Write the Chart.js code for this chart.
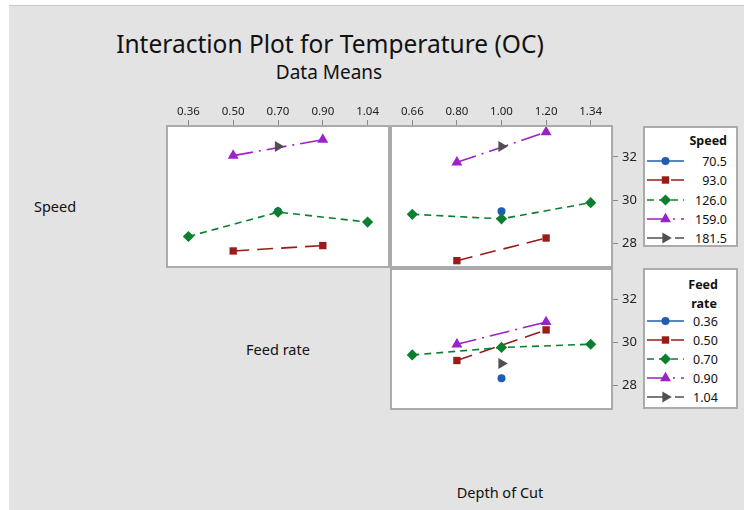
<!DOCTYPE html>
<html>
<head>
<meta charset="utf-8">
<script src="https://cdn.jsdelivr.net/npm/chart.js@4.4.1/dist/chart.umd.min.js"></script>
<style>
  body { margin: 0; width: 744px; height: 510px; background: #fff; overflow: hidden;
         font-family: "Noto Sans", sans-serif; color: #111; position: relative; }
  #bg { position: absolute; left: 9px; top: 5px; right: 0; bottom: 0; background: #e3e3e3;
        border-top: 1px solid #c9c9c9; }
  .txt { position: absolute; white-space: nowrap; transform: translate(-50%, -50%); line-height: 1; }
  canvas { position: absolute; }
  .legend { position: absolute; background: #fff; border: 2px solid #ababab; box-sizing: border-box; }
  .lg { position: absolute; white-space: nowrap; font-size: 12.5px; line-height: 1; transform: translateY(-50%); }
  .lgsym { position: absolute; transform: translateY(-50%); }
</style>
</head>
<body>
<div id="bg"></div>
<div class="txt" style="left:330px;top:44px;font-size:24.5px;">Interaction Plot for Temperature (OC)</div>
<div class="txt" style="left:329px;top:72px;font-size:19px;">Data Means</div>
<div class="txt" style="left:55px;top:206px;font-size:14.5px;">Speed</div>
<div class="txt" style="left:278px;top:349px;font-size:14.5px;">Feed rate</div>
<div class="txt" style="left:500px;top:492px;font-size:14.5px;">Depth of Cut</div>

<canvas id="speedFeed" width="224" height="173" style="left:166px;top:95px;"></canvas>
<canvas id="speedDepth" width="263" height="173" style="left:390px;top:95px;"></canvas>
<canvas id="feedDepth" width="263" height="142" style="left:390px;top:268px;"></canvas>

<div class="legend" id="speedLegend" style="left:643px;top:126px;width:95px;height:121px;"></div>
<div class="legend" id="feedLegend" style="left:643px;top:268px;width:95px;height:141px;"></div>

<script>
// levels on the x axes and in the legends
const feedLabels = ['0.36', '0.50', '0.70', '0.90', '1.04'];
const depthLabels = ['0.66', '0.80', '1.00', '1.20', '1.34'];
const speedLevels = ['70.5', '93.0', '126.0', '159.0', '181.5'];
const feedLevels = ['0.36', '0.50', '0.70', '0.90', '1.04'];
const yTicks = [28, 30, 32];

// Speed lines over Feed rate (top left)
const speed705ByFeed = [null, null, 29.48, null, null];
const speed93ByFeed = [null, 27.64, null, 27.89, null];
const speed126ByFeed = [28.31, null, 29.44, null, 28.98];
const speed159ByFeed = [null, 32.06, null, 32.80, null];
const speed1815ByFeed = [null, null, 32.48, null, null];

// Speed lines over Depth of Cut (top right)
const speed705ByDepth = [null, null, 29.48, null, null];
const speed93ByDepth = [null, 27.19, null, 28.24, null];
const speed126ByDepth = [29.34, null, 29.13, null, 29.88];
const speed159ByDepth = [null, 31.75, null, 33.15, null];
const speed1815ByDepth = [null, null, 32.48, null, null];

// Feed rate lines over Depth of Cut (bottom right)
const feed036ByDepth = [null, null, 28.33, null, null];
const feed050ByDepth = [null, 29.16, null, 30.59, null];
const feed070ByDepth = [29.42, null, 29.77, null, 29.92];
const feed090ByDepth = [null, 29.92, null, 30.96, null];
const feed104ByDepth = [null, null, 29.02, null, null];

// series look, same order in every panel
const colors = ['#1d5fae', '#9b1b1b', '#0b7f2f', '#9a22c6', '#505050'];
const markers = ['circle', 'rect', 'rectRot', 'triangle', 'triangle'];
const rotations = [0, 0, 0, 0, 90];
const radii = [4, 5.2, 5.6, 6.3, 6.3];
const dashes = [[], [16, 8], [7, 5], [20, 6, 2, 6], [20, 8]];

const Y_MIN = 26.85, Y_MAX = 33.48;

function makeDatasets(series, names) {
    return series.map((data, i) => ({
        label: names[i],
        data: data,
        borderColor: colors[i],
        backgroundColor: colors[i],
        pointStyle: markers[i],
        pointRotation: rotations[i],
        pointRadius: radii[i],
        pointBorderWidth: 0,
        borderWidth: 1.6,
        borderDash: dashes[i],
        spanGaps: true,
        clip: false,
        order: 4 - i
    }));
}

// white panel with grey frame
const panelFrame = {
    id: 'panelFrame',
    beforeDatasetsDraw(chart) {
        const { ctx, chartArea: a } = chart;
        ctx.save();
        ctx.fillStyle = '#fff';
        ctx.fillRect(a.left, a.top, a.right - a.left, a.bottom - a.top);
        ctx.restore();
    },
    afterDraw(chart) {
        const { ctx, chartArea: a } = chart;
        ctx.save();
        ctx.strokeStyle = '#aaaaaa';
        ctx.lineWidth = 2;
        ctx.strokeRect(a.left + 1, a.top + 1, a.right - a.left - 2, a.bottom - a.top - 2);
        ctx.restore();
    }
};

function xScale(showTop) {
    return {
        type: 'category',
        position: 'top',
        offset: true,
        display: showTop,
        afterFit: s => {
            s.height = showTop ? 30 : 0;
            s.paddingLeft = 0; s.paddingRight = 0; s.paddingTop = 0; s.paddingBottom = 0;
        },
        ticks: { color: '#222', font: { family: 'Noto Sans', size: 11.5 }, padding: 1, maxRotation: 0 },
        grid: { offset: false, drawOnChartArea: false, tickLength: 5, color: '#888', lineWidth: 1 },
        border: { display: false }
    };
}

function yScale(showRight) {
    return {
        type: 'linear',
        position: 'right',
        display: showRight,
        min: Y_MIN,
        max: Y_MAX,
        afterFit: s => {
            s.width = showRight ? 40 : 0;
            s.paddingLeft = 0; s.paddingRight = 0; s.paddingTop = 0; s.paddingBottom = 0;
        },
        afterBuildTicks: s => { s.ticks = yTicks.map(v => ({ value: v })); },
        ticks: { color: '#222', font: { family: 'Noto Sans', size: 13 }, padding: 4 },
        grid: { drawOnChartArea: false, tickLength: 5, color: '#888', lineWidth: 1 },
        border: { display: false }
    };
}

function makePanel(id, labels, series, names, showTop, showRight) {
    return new Chart(document.getElementById(id), {
        type: 'line',
        data: { labels: labels, datasets: makeDatasets(series, names) },
        options: {
            responsive: false,
            animation: false,
            layout: { padding: 0, autoPadding: false },
            plugins: { legend: { display: false }, tooltip: { enabled: false } },
            scales: { x: xScale(showTop), y: yScale(showRight) }
        },
        plugins: [panelFrame]
    });
}

makePanel('speedFeed', feedLabels,
    [speed705ByFeed, speed93ByFeed, speed126ByFeed, speed159ByFeed, speed1815ByFeed],
    speedLevels, true, false);
makePanel('speedDepth', depthLabels,
    [speed705ByDepth, speed93ByDepth, speed126ByDepth, speed159ByDepth, speed1815ByDepth],
    speedLevels, true, true);
makePanel('feedDepth', depthLabels,
    [feed036ByDepth, feed050ByDepth, feed070ByDepth, feed090ByDepth, feed104ByDepth],
    feedLevels, false, true);

// legends: symbol = line + marker, drawn as svg
function markerSvg(i, cx, cy) {
    const c = colors[i];
    if (markers[i] === 'circle') return `<circle cx="${cx}" cy="${cy}" r="4" fill="${c}"/>`;
    if (markers[i] === 'rect') return `<rect x="${cx - 3.7}" y="${cy - 3.7}" width="7.4" height="7.4" fill="${c}"/>`;
    if (markers[i] === 'rectRot') return `<polygon points="${cx},${cy - 5.6} ${cx + 5.6},${cy} ${cx},${cy + 5.6} ${cx - 5.6},${cy}" fill="${c}"/>`;
    const r = 6.3;
    const pts = [0, 120, 240].map(a => {
        const rad = (a + rotations[i]) * Math.PI / 180;
        return `${cx + Math.sin(rad) * r},${cy - Math.cos(rad) * r}`;
    }).join(' ');
    return `<polygon points="${pts}" fill="${c}"/>`;
}

function symbolSvg(i) {
    const dash = dashes[i].length ? `stroke-dasharray="${dashes[i].join(',')}"` : '';
    return `<svg width="40" height="14"><line x1="1" y1="7" x2="38" y2="7" stroke="${colors[i]}" stroke-width="1.6" ${dash}/>${markerSvg(i, 19.5, 7)}</svg>`;
}

function buildLegend(el, top, titleLines, names, rowY, alignRight) {
    titleLines.forEach(t => {
        const d = document.createElement('div');
        d.className = 'lg';
        d.style.fontWeight = 'bold';
        d.style.top = (t.y - top) + 'px';
        d.style.right = t.right + 'px';
        d.textContent = t.text;
        el.appendChild(d);
    });
    names.forEach((name, i) => {
        const s = document.createElement('div');
        s.className = 'lgsym';
        s.style.left = '1px';
        s.style.top = (rowY[i] - top) + 'px';
        s.innerHTML = symbolSvg(i);
        el.appendChild(s);
        const d = document.createElement('div');
        d.className = 'lg';
        d.style.top = (rowY[i] - top) + 'px';
        if (alignRight) d.style.right = '9px'; else d.style.left = '48px';
        d.textContent = name;
        el.appendChild(d);
    });
}

buildLegend(document.getElementById('speedLegend'), 126,
    [{ text: 'Speed', y: 139, right: 9 }], speedLevels,
    [160, 179.3, 198.5, 217.7, 236.8], true);
buildLegend(document.getElementById('feedLegend'), 268,
    [{ text: 'Feed', y: 282.5, right: 18 }, { text: 'rate', y: 301.5, right: 19 }], feedLevels,
    [320, 338.5, 357.5, 376.7, 395.8], false);
</script>
</body>
</html>
